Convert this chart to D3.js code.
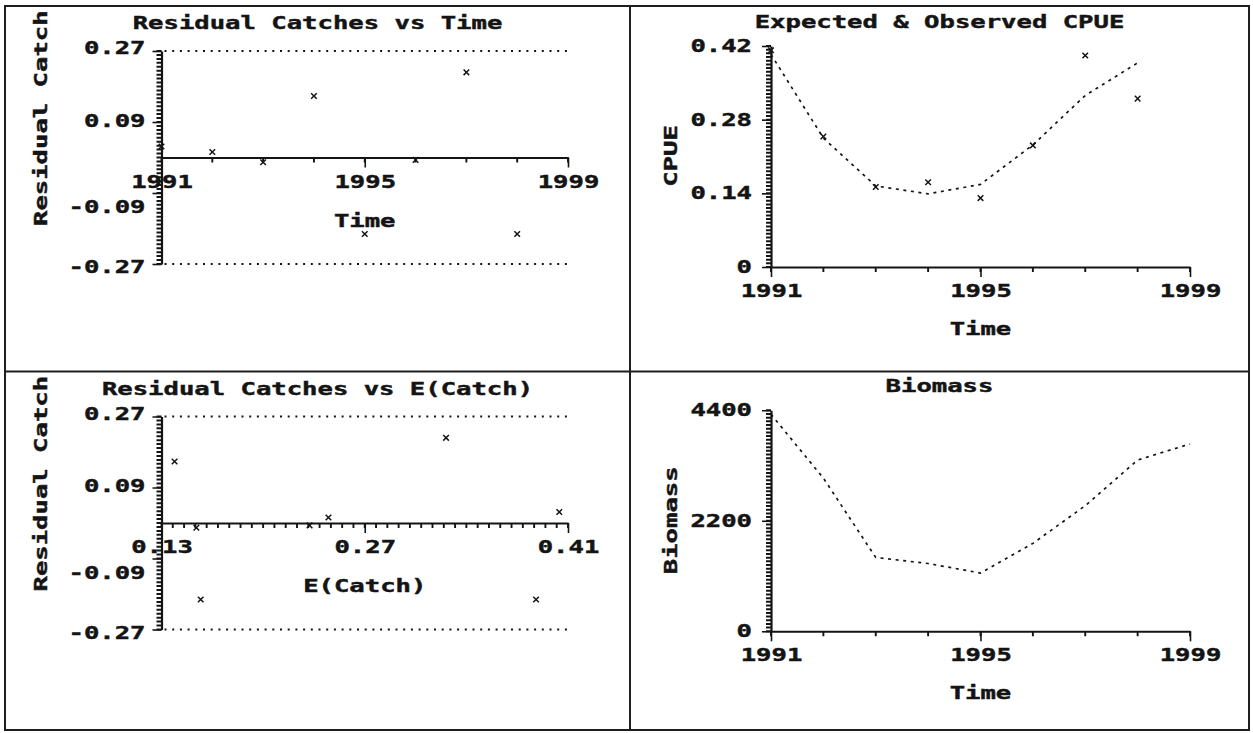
<!DOCTYPE html>
<html>
<head>
<meta charset="utf-8">
<script src="https://cdn.jsdelivr.net/npm/d3@7/dist/d3.min.js"></script>
<style>
  html, body { margin: 0; padding: 0; background: #fff; }
  svg { display: block; }
</style>
</head>
<body>
<svg id="chart" width="1253" height="733"></svg>
<script>
// ---- data -------------------------------------------------------------
const years = [1991, 1992, 1993, 1994, 1995, 1996, 1997, 1998];
const residuals = [0.028, 0.014, -0.012, 0.156, -0.194, -0.006, 0.216, -0.194];
const expectedCpue = [0.404, 0.245, 0.154, 0.139, 0.157, 0.232, 0.326, 0.388];
const observedCpue = [0.412, 0.248, 0.152, 0.161, 0.131, 0.231, 0.402, 0.320];
const biomassYears = [1991, 1992, 1993, 1994, 1995, 1996, 1997, 1998, 1999];
const biomass = [4320, 3050, 1470, 1350, 1160, 1750, 2500, 3410, 3730];

const yearTicks = [1991, 1995, 1999];
const residTicks = [0.27, 0.09, -0.09, -0.27];
const residLabels = ["0.27", "0.09", "-0.09", "-0.27"];
const eCatchTicks = [0.13, 0.27, 0.41];
const eCatchLabels = ["0.13", "0.27", "0.41"];
const cpueTicks = [0, 0.14, 0.28, 0.42];
const cpueLabels = ["0", "0.14", "0.28", "0.42"];
const biomassTicks = [0, 2200, 4400];
const biomassLabels = ["0", "2200", "4400"];

// ---- drawing helpers -------------------------------------------------
const INK = "#141414";
const FONT = "DejaVu Sans Mono";
const CHAR_W = 15.4;
// the residual labels sit a little off their ticks so the lower one clears the year labels
const RESID_LABEL_SHIFT = [-3, -1.5, 14, 3];
const svg = d3.select("#chart");

function stretch(sel) {
  sel.attr("font-family", FONT)
     .attr("font-weight", "bold")
     .attr("font-size", 18.5)
     .attr("fill", INK)
     .attr("stroke", INK)
     .attr("stroke-width", 0.45)
     .attr("lengthAdjust", "spacingAndGlyphs")
     .attr("textLength", function () { return Math.max(1, this.textContent.length) * CHAR_W; });
}

function label(g, txt, x, y, anchor, rotate) {
  const t = g.append("text").text(txt)
    .attr("text-anchor", anchor || "middle");
  if (rotate) {
    t.attr("transform", `translate(${x},${y}) rotate(-90)`);
  } else {
    t.attr("x", x).attr("y", y);
  }
  stretch(t);
  return t;
}

function styleAxis(g, width) {
  g.select(".domain").attr("stroke", INK).attr("stroke-width", width || 2);
  g.selectAll(".tick line").attr("stroke", INK).attr("stroke-width", 1.6);
  g.selectAll(".tick text").call(stretch);
}

// short ruler ticks along an axis, drawn as a single path
function yRuler(g, scale, x0, values, len) {
  const d = values.map(v => `M${x0 - len},${scale(v)}H${x0}`).join("");
  g.append("path").attr("d", d)
    .attr("fill", "none").attr("stroke", INK).attr("stroke-width", 2);
}
function xRuler(g, scale, y0, values, len) {
  const d = values.map(v => `M${scale(v)},${y0}V${y0 + len}`).join("");
  g.append("path").attr("d", d)
    .attr("fill", "none").attr("stroke", INK).attr("stroke-width", 1.9);
}

function crossMarks(g, pts, xs, ys) {
  g.selectAll("path.mark").data(pts).join("path")
    .attr("class", "mark")
    .attr("d", "M-2.8,-2.8L2.8,2.8M-2.8,2.8L2.8,-2.8")
    .attr("transform", d => `translate(${xs(d[0])},${ys(d[1])})`)
    .attr("stroke", INK).attr("stroke-width", 1.5).attr("fill", "none");
}

function clipPanel(id, x, y, w, h) {
  svg.append("clipPath").attr("id", id)
    .append("rect").attr("x", x).attr("y", y).attr("width", w).attr("height", h);
  return svg.append("g").attr("clip-path", `url(#${id})`);
}

// ---- frame --------------------------------------------------------------
const frame = svg.append("g").attr("stroke", "#1e1e1e").attr("stroke-width", 2).attr("fill", "none");
frame.append("rect").attr("x", 5).attr("y", 6).attr("width", 1244).attr("height", 724);
frame.append("line").attr("x1", 630).attr("x2", 630).attr("y1", 6).attr("y2", 730);
frame.append("line").attr("x1", 5).attr("x2", 1249).attr("y1", 371.5).attr("y2", 371.5);

// ---- residual panels (left column) ------------------------------------
function residualPanel(clipId, top, xScale, xMinor, xMajor, xLabels, xTitle, xs, ys, title) {
  const g = clipPanel(clipId, 6, top, 623, 364);
  const y = d3.scaleLinear().domain([-0.27, 0.27]).range([top + 257, top + 44]);
  const x0 = xScale.range()[0];

  label(g, title, 317.5, top + 22);
  label(g, "Residual Catch", 47, top + 219, "start", true);

  // dotted limits
  [0.27, -0.27].forEach(v => {
    g.append("line")
      .attr("x1", x0 + 3).attr("x2", xScale.range()[1])
      .attr("y1", y(v)).attr("y2", y(v))
      .attr("stroke", INK).attr("stroke-width", 2)
      .attr("stroke-dasharray", "2,5.7");
  });

  // y axis: labelled majors
  g.append("g").attr("transform", `translate(${x0},0)`)
    .call(d3.axisLeft(y).tickValues(residTicks).tickSize(9).tickSizeOuter(0).tickPadding(7)
      .tickFormat((d, i) => residLabels[i]))
    .call(a => styleAxis(a, 2.2))
    .call(a => a.selectAll(".tick text")
      .attr("dy", "0.3em")
      .attr("y", (d, i) => RESID_LABEL_SHIFT[i]));

  // x axis on the zero line
  g.append("g").attr("transform", `translate(0,${y(0)})`)
    .call(d3.axisBottom(xScale).tickValues(xMajor).tickSize(10).tickSizeOuter(0).tickPadding(7)
      .tickFormat((d, i) => xLabels[i]))
    .call(a => styleAxis(a, 2));

  // dense ruler ticks
  yRuler(g, y, x0, d3.range(-27, 28).map(v => v / 100), 5);
  xRuler(g, xScale, y(0), xMinor, 5);

  label(g, xTitle, xScale(xMajor[1]), y(0) + 69);

  crossMarks(g, xs.map((v, i) => [v, ys[i]]), xScale, y);
}

const xYearLeft = d3.scaleLinear().domain([1991, 1999]).range([161.5, 568]);
residualPanel("clip-a", 7, xYearLeft, d3.range(1991, 2000), yearTicks, yearTicks.map(String),
  "Time", years, residuals, "Residual Catches vs Time");

const xCatch = d3.scaleLinear().domain([0.13, 0.41]).range([161.5, 568]);
residualPanel("clip-c", 372.5, xCatch, d3.range(0, 37).map(i => 0.13 + i * 0.28 / 36), eCatchTicks, eCatchLabels,
  "E(Catch)", expectedCpue, residuals, "Residual Catches vs E(Catch)");

// ---- time-series panels (right column) ---------------------------------
function seriesPanel(clipId, top, yDomain, yTicks, yLabels, yMinorStep, yTitle, title, lineX, lineY, pts) {
  const g = clipPanel(clipId, 631, top, 617, 364);
  const x = d3.scaleLinear().domain([1991, 1999]).range([771, 1190]);
  const y = d3.scaleLinear().domain(yDomain).range([top + 261, top + 40]);

  label(g, title, 939.5, top + 22);
  label(g, yTitle, 676.5, top + 150, "middle", true);

  g.append("g").attr("transform", "translate(771,0)")
    .call(d3.axisLeft(y).tickValues(yTicks).tickSize(9).tickSizeOuter(0).tickPadding(10)
      .tickFormat((d, i) => yLabels[i]))
    .call(a => styleAxis(a, 2.2))
    .call(a => a.selectAll(".tick text").attr("dy", "0.3em"));

  g.append("g").attr("transform", `translate(0,${y(0)})`)
    .call(d3.axisBottom(x).tickValues(yearTicks).tickSize(10).tickSizeOuter(0).tickPadding(7)
      .tickFormat(d3.format("d")))
    .call(a => styleAxis(a, 2));

  yRuler(g, y, 771, d3.range(0, yDomain[1] + yMinorStep / 2, yMinorStep), 5);
  xRuler(g, x, y(0), d3.range(1991, 2000), 5);

  label(g, "Time", x(1995), y(0) + 68);

  const line = d3.line().x(d => x(d[0])).y(d => y(d[1]));
  g.append("path")
    .datum(lineX.map((v, i) => [v, lineY[i]]))
    .attr("d", line)
    .attr("fill", "none").attr("stroke", INK).attr("stroke-width", 1.7)
    .attr("stroke-dasharray", "3,4.6");

  if (pts) crossMarks(g, pts, x, y);
}

seriesPanel("clip-b", 6, [0, 0.42], cpueTicks, cpueLabels, 0.007, "CPUE", "Expected & Observed CPUE",
  years, expectedCpue, years.map((v, i) => [v, observedCpue[i]]));

seriesPanel("clip-d", 370.3, [0, 4400], biomassTicks, biomassLabels, 4400 / 60, "Biomass", "Biomass",
  biomassYears, biomass, null);
</script>
</body>
</html>
